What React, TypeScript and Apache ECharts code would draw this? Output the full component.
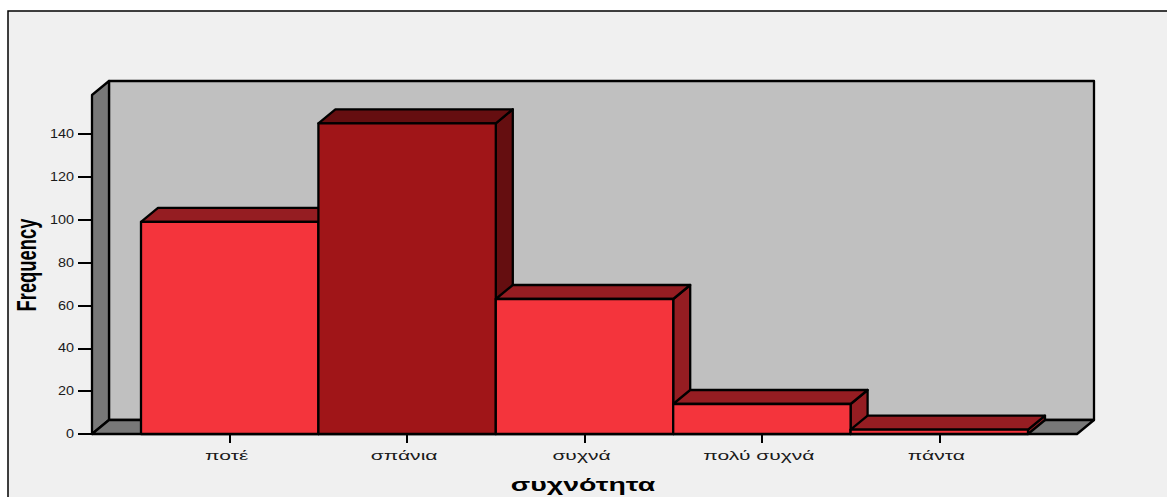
import React, { useEffect, useRef } from "react";
import * as echarts from "echarts";

const categories = ["ποτέ", "σπάνια", "συχνά", "πολύ συχνά", "πάντα"];
const frequencies = [99, 145, 63, 14, 2];
const yTicks = [0, 20, 40, 60, 80, 100, 120, 140];
const highlightedIndex = 1;

const DX = 17;
const DY = -14;
const WALL_PAD_LEFT = 49;
const WALL_PAD_RIGHT = 49;
const LINE = 2.3;

const edge = { stroke: "#000", lineWidth: LINE, lineJoin: "round" as const };

function poly(points: number[][], fill: string) {
  return { type: "polygon", shape: { points }, style: { fill, ...edge } };
}

export default function App() {
  const ref = useRef<HTMLDivElement>(null);
  useEffect(() => {
    document.body.style.margin = "0";
    const chart = echarts.init(ref.current!, null, { renderer: "svg" });
    chart.setOption({
      animation: false,
      backgroundColor: "#ffffff",
      graphic: [
        {
          type: "rect",
          z: -10,
          shape: { x: 8, y: 11, width: 1300, height: 600 },
          style: { fill: "#f0f0f0", stroke: "#000", lineWidth: 1.5 },
        },
        {
          type: "text",
          x: 25.5,
          y: 265,
          rotation: Math.PI / 2,
          scaleX: 0.92,
          scaleY: 1.42,
          style: {
            text: "Frequency",
            font: "bold 20px 'Liberation Sans'",
            fill: "#000",
            textAlign: "center",
            textVerticalAlign: "middle",
          },
        },
        {
          type: "text",
          x: 583,
          y: 484,
          scaleX: 1.5,
          scaleY: 1,
          style: {
            text: "συχνότητα",
            font: "bold 19px 'Liberation Sans'",
            fill: "#000",
            textAlign: "center",
            textVerticalAlign: "middle",
          },
        },
      ],
      grid: { left: 141, right: 139, top: 95, bottom: 63 },
      xAxis: {
        type: "category",
        data: categories,
        axisLine: { show: false },
        axisTick: { show: true, alignWithLabel: true, length: 9, lineStyle: { color: "#000", width: 2 } },
        axisLabel: { show: false },
      },
      yAxis: {
        type: "value",
        min: 0,
        max: 158.2,
        offset: WALL_PAD_LEFT,
        splitLine: { show: false },
        axisLine: { show: false },
        axisTick: { show: true, length: 14, customValues: yTicks, lineStyle: { color: "#000", width: 2 } },
        axisLabel: { show: false },
      },
      series: [
        {
          type: "custom",
          coordinateSystem: "cartesian2d",
          z: 1,
          silent: true,
          data: [[0, 0]],
          renderItem: (params: any) => {
            const c = params.coordSys;
            const l = c.x - WALL_PAD_LEFT;
            const r = c.x + c.width + WALL_PAD_RIGHT;
            const t = c.y;
            const b = c.y + c.height;
            return {
              type: "group",
              children: [
                poly([[l + DX, t + DY], [r + DX, t + DY], [r + DX, b + DY], [l + DX, b + DY]], "#c0c0c0"),
                poly([[l, t], [l + DX, t + DY], [l + DX, b + DY], [l, b]], "#787878"),
                poly([[l, b], [l + DX, b + DY], [r + DX, b + DY], [r, b]], "#787878"),
              ],
            };
          },
        },
        {
          type: "custom",
          coordinateSystem: "cartesian2d",
          z: 2,
          silent: true,
          encode: { x: 0, y: 1 },
          data: frequencies.map((v, i) => [i, v]),
          renderItem: (params: any, api: any) => {
            const i = api.value(0);
            const top = api.coord([i, api.value(1)]);
            const base = api.coord([i, 0]);
            const w = api.size([1, 0])[0];
            const x0 = top[0] - w / 2;
            const x1 = top[0] + w / 2;
            const y0 = top[1];
            const y1 = base[1];
            const hi = params.dataIndex === highlightedIndex;
            const front = hi ? "#a01518" : "#f4343c";
            const shade = hi ? "#650e10" : "#951d22";
            return {
              type: "group",
              children: [
                poly([[x1, y0], [x1 + DX, y0 + DY], [x1 + DX, y1 + DY], [x1, y1]], shade),
                poly([[x0, y0], [x0 + DX, y0 + DY], [x1 + DX, y0 + DY], [x1, y0]], shade),
                poly([[x0, y0], [x1, y0], [x1, y1], [x0, y1]], front),
              ],
            };
          },
        },
        {
          type: "custom",
          coordinateSystem: "cartesian2d",
          z: 3,
          silent: true,
          data: categories.map((_, i) => [i, 0]),
          renderItem: (params: any, api: any) => {
            const p = api.coord([api.value(0), 0]);
            return {
              type: "text",
              x: p[0] - 3,
              y: p[1] + 21,
              scaleX: 1.56,
              style: {
                text: categories[params.dataIndex],
                font: "13.5px 'Liberation Sans'",
                fill: "#1a1a1a",
                textAlign: "center",
                textVerticalAlign: "middle",
              },
            };
          },
        },
        {
          type: "custom",
          coordinateSystem: "cartesian2d",
          z: 3,
          silent: true,
          data: yTicks.map((v) => [0, v]),
          renderItem: (params: any, api: any) => {
            const p = api.coord([0, api.value(1)]);
            return {
              type: "text",
              x: params.coordSys.x - WALL_PAD_LEFT - 18,
              y: p[1],
              scaleX: 1.2,
              style: {
                text: String(yTicks[params.dataIndex]),
                font: "12px 'Liberation Sans'",
                fill: "#1a1a1a",
                textAlign: "right",
                textVerticalAlign: "middle",
              },
            };
          },
        },
      ],
    });
    return () => chart.dispose();
  }, []);
  return <div ref={ref} style={{ width: 1167, height: 497 }} />;
}
